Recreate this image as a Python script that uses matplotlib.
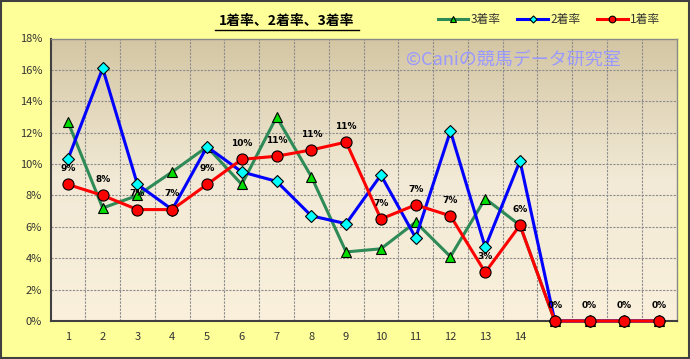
import numpy as np
import matplotlib
matplotlib.use("Agg")
import matplotlib.pyplot as plt
from matplotlib.colors import LinearSegmentedColormap
from matplotlib.patches import Rectangle

plt.rcParams['font.family'] = ['Noto Sans CJK JP', 'DejaVu Sans']

categories = list(range(1, 19))
tick_labels = [str(i) for i in range(1, 15)] + ['', '', '', '']
rate3 = [12.7, 7.2, 8.0, 9.5, 11.1, 8.7, 13.0, 9.2, 4.4, 4.6, 6.3, 4.1, 7.8, 6.1, 0, 0, 0, 0]
rate2 = [10.3, 16.1, 8.7, 7.1, 11.1, 9.5, 8.9, 6.7, 6.2, 9.3, 5.3, 12.1, 4.7, 10.2, 0, 0, 0, 0]
rate1 = [8.7, 8.0, 7.1, 7.1, 8.7, 10.3, 10.5, 10.9, 11.4, 6.5, 7.4, 6.7, 3.1, 6.1, 0, 0, 0, 0]
label1 = ['9%', '8%', '7%', '7%', '9%', '10%', '11%', '11%', '11%', '7%', '7%', '7%', '3%', '6%', '0%', '0%', '0%', '0%']

fig = plt.figure(figsize=(6.9, 3.59), dpi=100)
fig.patch.set_facecolor('#FFFF99')
fig.add_artist(Rectangle((0.001, 0.002), 0.997, 0.995, transform=fig.transFigure,
                         fill=False, edgecolor='#404040', linewidth=1.5))

ax = fig.add_axes([50.5/690, 38/359, 626/690, 282.5/359])
cmap = LinearSegmentedColormap.from_list('bg', ['#FAF0DC', '#F2EAD6', '#D4C6A3'])
grad = np.linspace(0, 1, 256).reshape(-1, 1)
ax.imshow(grad, aspect='auto', cmap=cmap, origin='lower',
          extent=[0.5, 18.5, 0, 18], zorder=0)

for x in np.arange(1.5, 18.5, 1):
    ax.axvline(x, color='#8C8C8C', linestyle=(0, (2, 1.2)), linewidth=0.8, zorder=1)
for y in range(2, 18, 2):
    ax.axhline(y, color='#8C8C8C', linestyle=(0, (2, 1.2)), linewidth=0.8, zorder=1)

ax.plot(categories, rate3, color='#2E8B57', linewidth=2.2, marker='^', markersize=7.5,
        markerfacecolor='#00DD00', markeredgecolor='black', markeredgewidth=0.8,
        label='3着率', zorder=3, clip_on=False)
ax.plot(categories, rate2, color='#0000FF', linewidth=2.2, marker='D', markersize=6,
        markerfacecolor='#00FFFF', markeredgecolor='black', markeredgewidth=0.8,
        label='2着率', zorder=4, clip_on=False)
ax.plot(categories, rate1, color='#FF0000', linewidth=2.2, marker='o', markersize=8,
        markerfacecolor='#FF0000', markeredgecolor='black', markeredgewidth=0.8,
        label='1着率', zorder=5, clip_on=False)

for x, v, lab in zip(categories, rate1, label1):
    ax.annotate(lab, (x, v), xytext=(0, 8), textcoords='offset points',
                ha='center', va='bottom', fontsize=6.5, fontweight='bold',
                color='black', zorder=6, family=['DejaVu Sans'])

ax.set_xlim(0.5, 18.5)
ax.set_ylim(0, 18)
ax.set_yticks(range(0, 19, 2))
ax.set_yticklabels([f'{v}%' for v in range(0, 19, 2)], fontsize=8, color='#333333')
ax.set_xticks(categories)
ax.set_xticklabels(tick_labels, fontsize=8, color='#333333')
ax.tick_params(axis='both', length=0, pad=6)
ax.tick_params(axis='x', pad=8)
for s in ['top', 'right']:
    ax.spines[s].set_color('#888888')
    ax.spines[s].set_linewidth(1.0)
for s in ['left', 'bottom']:
    ax.spines[s].set_color('#404040')
    ax.spines[s].set_linewidth(1.5)

ax.text(0.74, 0.925, '©Caniの競馬データ研究室', transform=ax.transAxes,
        ha='center', va='center', fontsize=13, color='#9999FF', zorder=2)

fig.text(287/690, 1 - 21/359, '1着率、2着率、3着率', ha='center', va='center',
         fontsize=10, fontweight='bold', color='black')
fig.add_artist(plt.Line2D([215/690, 359/690], [1 - 30/359, 1 - 30/359],
                          transform=fig.transFigure, color='black', linewidth=1))

handles, labels = ax.get_legend_handles_labels()
leg = fig.legend(handles, labels, loc='center', bbox_to_anchor=(549/690, 1 - 20/359),
                 ncol=3, frameon=False, fontsize=8.5, handlelength=2.6, columnspacing=1.4,
                 handletextpad=0.2, markerscale=0.6)
for t in leg.get_texts():
    t.set_color('#333333')

fig.savefig('out.png', dpi=100, facecolor=fig.get_facecolor())
